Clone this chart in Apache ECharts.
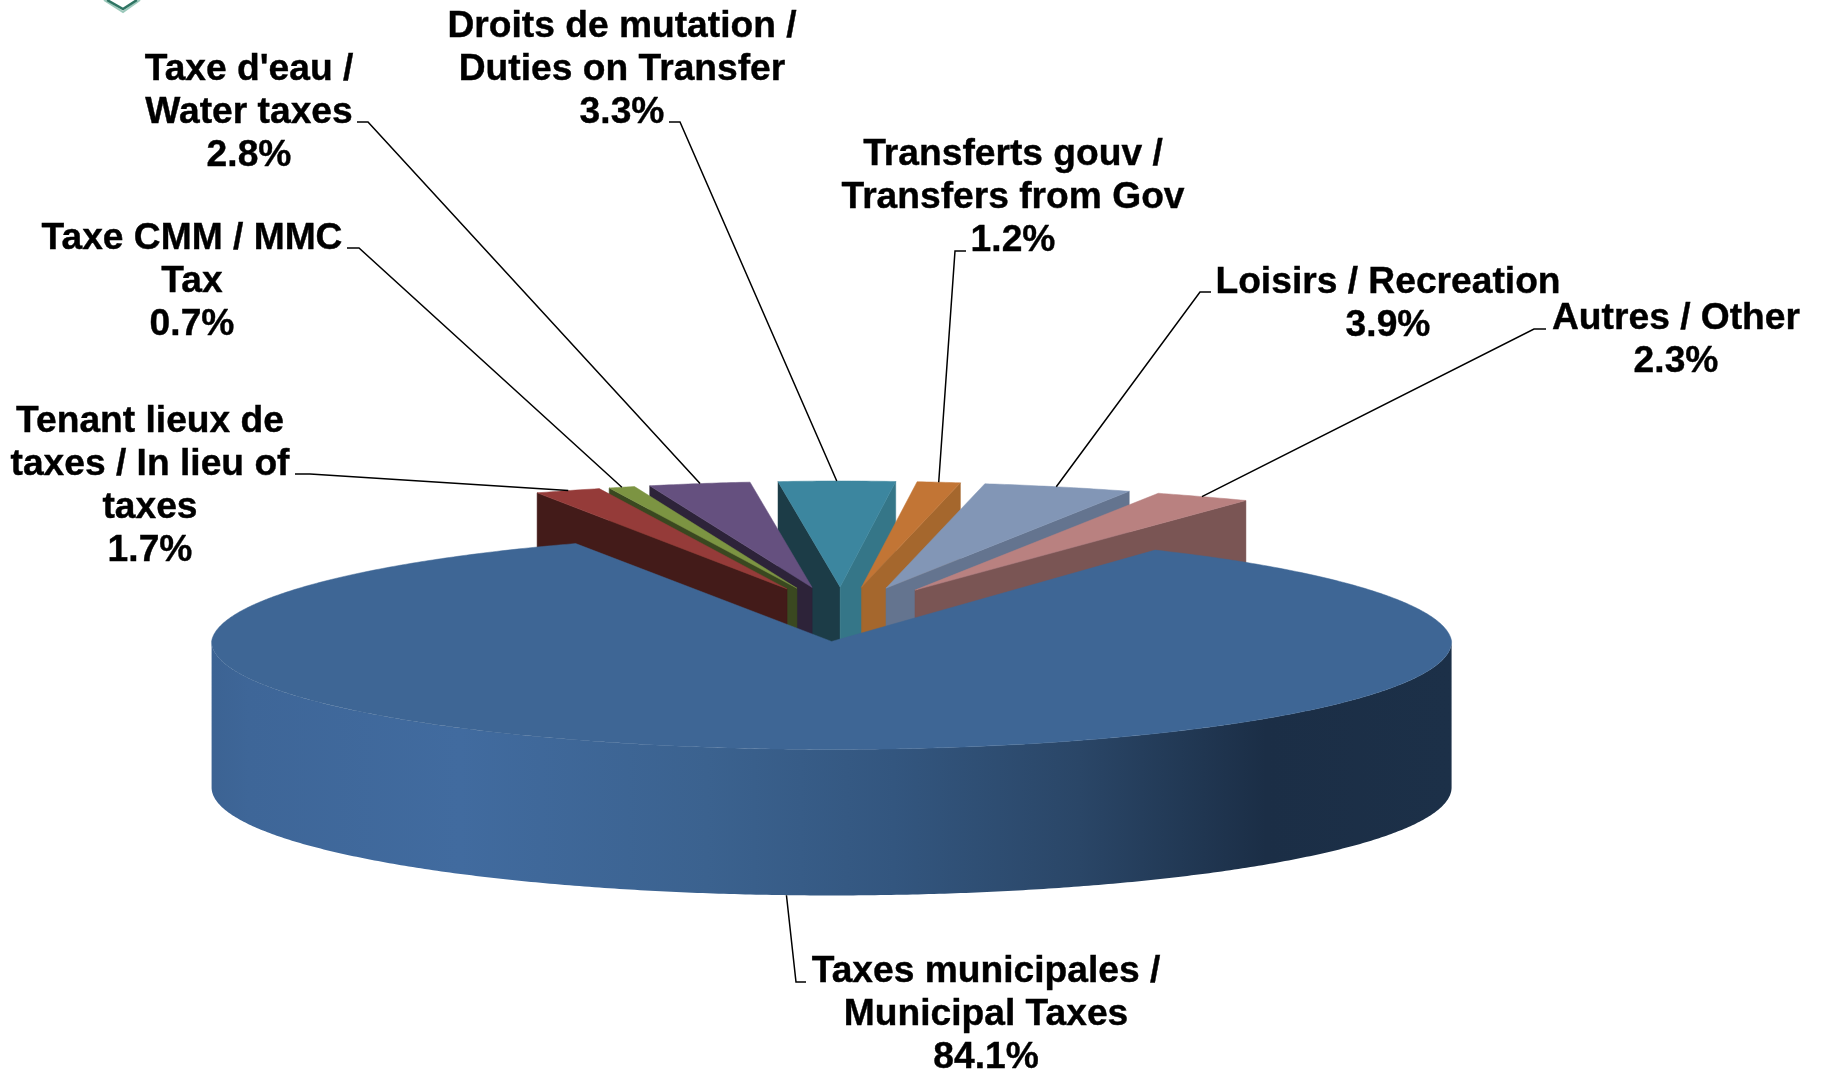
<!DOCTYPE html>
<html>
<head>
<meta charset="utf-8">
<title>Revenue breakdown</title>
<script src="https://cdn.jsdelivr.net/npm/echarts@6/dist/echarts.min.js"></script>
<style>
  html, body { margin: 0; padding: 0; background: #fff; }
  #chart { width: 1821px; height: 1071px; }
</style>
</head>
<body>
<div id="chart"></div>
<script>
// clockwise from the left edge of the gap in the big slice
const categories = [
  'Tenant lieux de\ntaxes / In lieu of\ntaxes',
  'Taxe CMM / MMC\nTax',
  "Taxe d'eau /\nWater taxes",
  'Droits de mutation /\nDuties on Transfer',
  'Transferts gouv /\nTransfers from Gov',
  'Loisirs / Recreation',
  'Autres / Other',
  'Taxes municipales /\nMunicipal Taxes'
]
const values = [1.7, 0.7, 2.8, 3.3, 1.2, 3.9, 2.3, 84.1]

const topColors = ['#953b39', '#7c9442', '#65507f', '#3c869f', '#c27535', '#8296b6', '#b98180', '#3e6695']
const leftWallColors = ['#431b19', '#3a4820', '#2d2339', '#1c3c47', '#a5672d', '#64748f', '#7a5554', '#3e6695']
const rightWallColors = ['#431b19', '#3a4820', '#2d2339', '#357688', '#a5672d', '#64748f', '#7a5554', '#3e6695']

// label centre (first line), then leader start and elbow
const labelCentres = [[150, 421], [192, 238], [249, 69], [622, 26], [1013, 154], [1388, 282], [1676, 318], [986, 971]]
const leaderStarts = [[295, 474], [347, 248], [357, 122], [669, 122], [966, 251], [1211, 292], [1546, 329], [806, 982]]
const leaderElbows = [[310, 474], [359, 248], [368, 122], [680, 122], [955, 251], [1200, 292], [1534, 329], [796, 982]]

// pie geometry
const startAngle = -25
const centerX = 841
const centerY = 613.5
const explodeX = 150
const explodeY = 26.5
const radiusY = 106
const bigRadiusX = 620
const bigRadiusY = 108
const bigDropY = 1.5
const bigLeaderShift = -6
const depth = 146
const toRad = Math.PI / 180
const bigIndex = values.length - 1

const total = values.reduce((a, b) => a + b, 0)
let acc = startAngle
const slices = values.map((v) => {
  const from = acc
  const to = acc + v / total * 360
  acc = to
  return { from, to, mid: (from + to) / 2 }
})

// the back of the pie narrows in the perspective of the original
const radiusXAt = (i, deg) => {
  const s = Math.sin(deg * toRad)
  if (i === bigIndex) return bigRadiusX - 16 * Math.max(0, Math.cos(deg * toRad))
  return 567 + 165 * s * s + 12 * s
}
const apexOf = (i) => {
  const m = slices[i].mid * toRad
  const s = Math.sin(m)
  const y = centerY - explodeY * Math.cos(m)
  return [centerX + explodeX * s + 15 * s * s, i === bigIndex ? y + bigDropY : y]
}
const rimOf = (i, deg) => {
  const a = apexOf(i)
  const r = deg * toRad
  const ry = i === bigIndex ? bigRadiusY : radiusY
  return [a[0] + radiusXAt(i, deg) * Math.sin(r), a[1] - ry * Math.cos(r)]
}
const arcPoints = (i, from, to) => {
  const pts = []
  const n = Math.max(2, Math.ceil(Math.abs(to - from) / 0.5))
  for (let k = 0; k <= n; k++) pts.push(rimOf(i, from + (to - from) * k / n))
  return pts
}
const drop = (p) => [p[0], p[1] + depth]
const polygon = (points, fill) => ({
  type: 'polygon',
  shape: { points },
  style: { fill, stroke: fill, lineWidth: 0.5 }
})

// back to front: slices nearest to the 12 o'clock go first
const wrapAngle = (d) => Math.abs(((d + 180) % 360 + 360) % 360 - 180)
const drawOrder = values.map((v, i) => i).sort((a, b) => wrapAngle(slices[a].mid) - wrapAngle(slices[b].mid))

const bigSideGradient = {
  type: 'linear', x: 0, y: 0, x2: 1, y2: 0,
  colorStops: [
    { offset: 0, color: '#3c6393' },
    { offset: 0.03, color: '#3e6698' },
    { offset: 0.2, color: '#416b9f' },
    { offset: 0.4, color: '#3b628f' },
    { offset: 0.55, color: '#33567f' },
    { offset: 0.7, color: '#2a4667' },
    { offset: 0.85, color: '#1b2e46' },
    { offset: 1, color: '#1c3048' }
  ]
}

const renderSlice = (params, api) => {
  const i = api.value(0)
  const s = slices[i]
  const apex = apexOf(i)
  const children = []
  if (i === bigIndex) {
    const front = arcPoints(i, 90, 270)
    children.push(polygon(front.concat(front.map(drop).reverse()), bigSideGradient))
    children[0].style.stroke = null
  } else {
    const left = rimOf(i, s.from)
    const right = rimOf(i, s.to)
    if (Math.sin(s.from * toRad) < 0) {
      children.push(polygon([left, apex, drop(apex), drop(left)], leftWallColors[i]))
    }
    if (Math.sin(s.to * toRad) > 0) {
      children.push(polygon([right, apex, drop(apex), drop(right)], rightWallColors[i]))
    }
  }
  children.push(polygon([apex].concat(arcPoints(i, s.from, s.to)), topColors[i]))
  return { type: 'group', children }
}

const renderLabel = (params, api) => {
  const i = api.value(0)
  const s = slices[i]
  let end = rimOf(i, s.mid)
  if (i === bigIndex) end = [end[0] + bigLeaderShift, end[1] + depth]
  return {
    type: 'group',
    children: [
      {
        type: 'polyline',
        shape: { points: [leaderStarts[i], leaderElbows[i], end] },
        style: { fill: null, stroke: '#000', lineWidth: 1.5 }
      },
      {
        type: 'text',
        x: labelCentres[i][0],
        y: labelCentres[i][1] - 21,
        style: {
          text: categories[i] + '\n' + values[i].toFixed(1) + '%',
          fill: '#000',
          stroke: '#000',
          lineWidth: 0.4,
          font: 'bold 37.2px "Liberation Sans", Arial, sans-serif',
          lineHeight: 43,
          align: 'center',
          verticalAlign: 'top'
        }
      }
    ]
  }
}

const chart = echarts.init(document.getElementById('chart'))
chart.setOption({
  animation: false,
  backgroundColor: '#ffffff',
  // tip of the logo cut off by the top of the picture
  graphic: [
    {
      type: 'polyline',
      shape: { points: [[104, 0], [123, 12], [140, 0]] },
      style: { fill: null, stroke: '#9cc9bb', lineWidth: 2 }
    },
    {
      type: 'polyline',
      shape: { points: [[107, 0], [123, 9], [137, 0]] },
      style: { fill: null, stroke: '#2f7463', lineWidth: 2.5 }
    }
  ],
  series: [
    {
      type: 'custom',
      coordinateSystem: 'none',
      silent: true,
      data: drawOrder.map((i) => [i]),
      renderItem: renderSlice
    },
    {
      type: 'custom',
      coordinateSystem: 'none',
      silent: true,
      z: 3,
      data: values.map((v, i) => [i]),
      renderItem: renderLabel
    }
  ]
})
</script>
</body>
</html>
